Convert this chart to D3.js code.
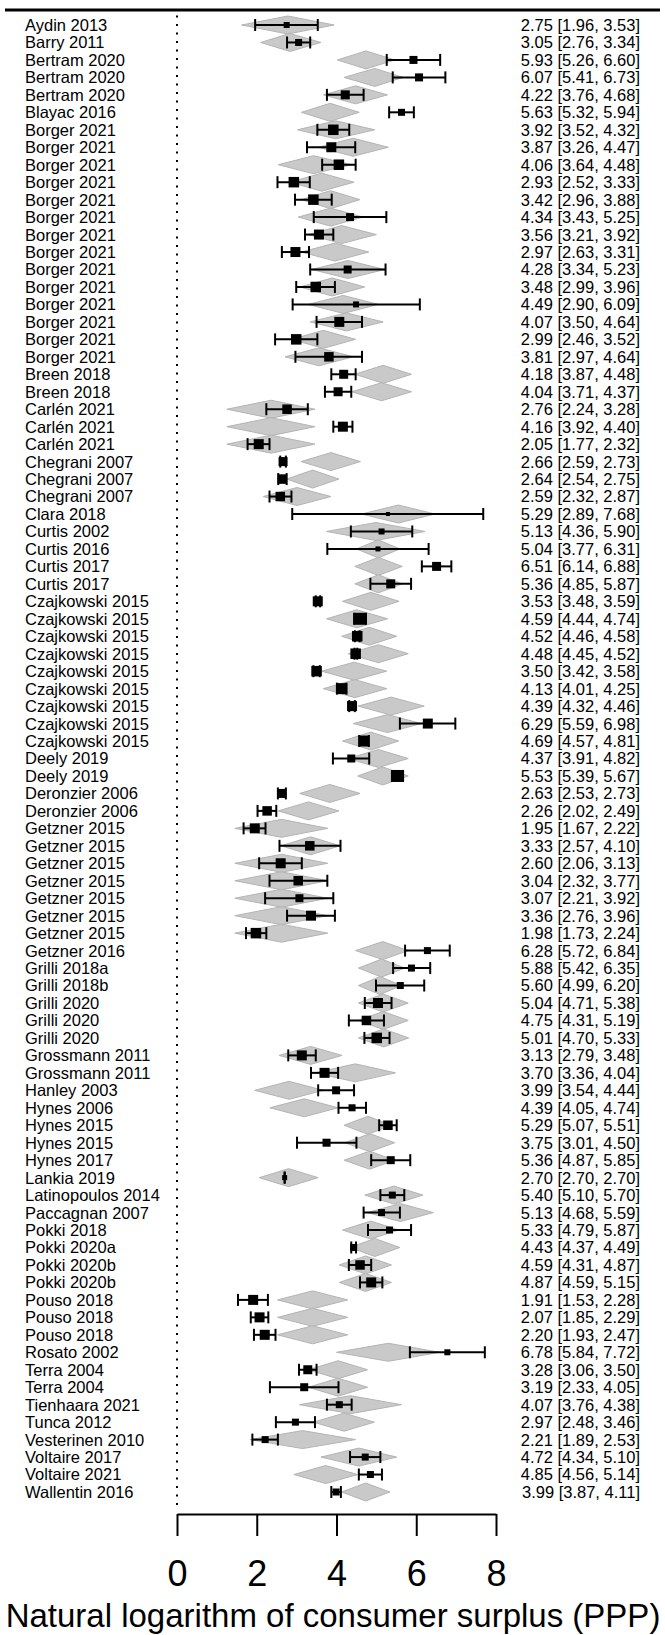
<!DOCTYPE html>
<html>
<head>
<meta charset="utf-8">
<script src="https://cdn.jsdelivr.net/npm/d3@7"></script>
<style>
  html, body { margin: 0; padding: 0; background: #fff; }
  svg { display: block; font-family: "Liberation Sans", Arial, sans-serif; }
</style>
</head>
<body>
<svg id="chart" width="665" height="1635"></svg>
<script>
// ---- data ----
const studies = ["Aydin 2013","Barry 2011","Bertram 2020","Bertram 2020","Bertram 2020","Blayac 2016",
"Borger 2021","Borger 2021","Borger 2021","Borger 2021","Borger 2021","Borger 2021","Borger 2021","Borger 2021",
"Borger 2021","Borger 2021","Borger 2021","Borger 2021","Borger 2021","Borger 2021",
"Breen 2018","Breen 2018","Carlén 2021","Carlén 2021","Carlén 2021","Chegrani 2007","Chegrani 2007","Chegrani 2007",
"Clara 2018","Curtis 2002","Curtis 2016","Curtis 2017","Curtis 2017",
"Czajkowski 2015","Czajkowski 2015","Czajkowski 2015","Czajkowski 2015","Czajkowski 2015","Czajkowski 2015",
"Czajkowski 2015","Czajkowski 2015","Czajkowski 2015","Deely 2019","Deely 2019","Deronzier 2006","Deronzier 2006",
"Getzner 2015","Getzner 2015","Getzner 2015","Getzner 2015","Getzner 2015","Getzner 2015","Getzner 2015","Getzner 2016",
"Grilli 2018a","Grilli 2018b","Grilli 2020","Grilli 2020","Grilli 2020","Grossmann 2011","Grossmann 2011","Hanley 2003",
"Hynes 2006","Hynes 2015","Hynes 2015","Hynes 2017","Lankia 2019","Latinopoulos 2014","Paccagnan 2007","Pokki 2018",
"Pokki 2020a","Pokki 2020b","Pokki 2020b","Pouso 2018","Pouso 2018","Pouso 2018","Rosato 2002","Terra 2004","Terra 2004",
"Tienhaara 2021","Tunca 2012","Vesterinen 2010","Voltaire 2017","Voltaire 2021","Wallentin 2016"];

const estimate = [2.75,3.05,5.93,6.07,4.22,5.63,3.92,3.87,4.06,2.93,3.42,4.34,3.56,2.97,4.28,3.48,4.49,4.07,2.99,3.81,
4.18,4.04,2.76,4.16,2.05,2.66,2.64,2.59,5.29,5.13,5.04,6.51,5.36,3.53,4.59,4.52,4.48,3.50,4.13,4.39,6.29,4.69,
4.37,5.53,2.63,2.26,1.95,3.33,2.60,3.04,3.07,3.36,1.98,6.28,5.88,5.60,5.04,4.75,5.01,3.13,3.70,3.99,4.39,5.29,
3.75,5.36,2.70,5.40,5.13,5.33,4.43,4.59,4.87,1.91,2.07,2.20,6.78,3.28,3.19,4.07,2.97,2.21,4.72,4.85,3.99];

const ciLower = [1.96,2.76,5.26,5.41,3.76,5.32,3.52,3.26,3.64,2.52,2.96,3.43,3.21,2.63,3.34,2.99,2.90,3.50,2.46,2.97,
3.87,3.71,2.24,3.92,1.77,2.59,2.54,2.32,2.89,4.36,3.77,6.14,4.85,3.48,4.44,4.46,4.45,3.42,4.01,4.32,5.59,4.57,
3.91,5.39,2.53,2.02,1.67,2.57,2.06,2.32,2.21,2.76,1.73,5.72,5.42,4.99,4.71,4.31,4.70,2.79,3.36,3.54,4.05,5.07,
3.01,4.87,2.70,5.10,4.68,4.79,4.37,4.31,4.59,1.53,1.85,1.93,5.84,3.06,2.33,3.76,2.48,1.89,4.34,4.56,3.87];

const ciUpper = [3.53,3.34,6.60,6.73,4.68,5.94,4.32,4.47,4.48,3.33,3.88,5.25,3.92,3.31,5.23,3.96,6.09,4.64,3.52,4.64,
4.48,4.37,3.28,4.40,2.32,2.73,2.75,2.87,7.68,5.90,6.31,6.88,5.87,3.59,4.74,4.58,4.52,3.58,4.25,4.46,6.98,4.81,
4.82,5.67,2.73,2.49,2.22,4.10,3.13,3.77,3.92,3.96,2.24,6.84,6.35,6.20,5.38,5.19,5.33,3.48,4.04,4.44,4.74,5.51,
4.50,5.85,2.70,5.70,5.59,5.87,4.49,4.87,5.15,2.28,2.29,2.47,7.72,3.50,4.05,4.38,3.46,2.53,5.10,5.14,4.11];

// relative study weights (square size)
const weight = [6,7,8,8,9,7,10.5,10,10.5,10.5,10.5,8,10,10,8,10.5,6,10,10.5,9.5,
9,9,9.5,10,10,9,9.5,9.5,4,6,5,9,9,10,12,10.5,10.5,10.5,11,10,10,11,
8,12,9,9.5,10,9.5,10,9.5,8,10,10.5,7,7,7,10,9.5,10.5,10,10,8,7,9.5,
8,8,5,7,7,7,7,9.5,10,10,10,10,6,9,8,7,7,7,7,7,7];

// fitted values (diamonds): lower, centre, upper
const fitLower = [1.62,2.10,4.02,4.19,3.67,3.12,3.02,3.54,2.54,2.83,3.12,3.04,3.29,3.12,3.38,3.08,3.29,3.34,2.87,2.71,
4.46,4.38,1.25,1.25,1.25,3.11,2.75,2.16,4.63,3.75,4.50,4.46,4.46,4.15,3.75,4.13,4.29,3.63,3.67,4.54,4.42,4.15,
4.29,4.53,3.08,2.54,1.45,2.61,1.45,1.45,1.45,1.45,1.45,4.48,4.55,4.55,4.55,4.55,4.55,2.56,3.46,1.95,2.33,4.19,
4.21,4.19,2.06,4.71,4.77,4.15,4.34,4.07,4.07,2.52,2.52,2.52,4.00,3.29,3.29,3.07,3.42,1.83,3.61,2.93,4.13];
const fitValue = [2.78,2.83,4.74,4.96,4.48,3.84,3.98,4.42,3.42,3.63,3.85,3.85,4.13,3.96,4.29,3.89,4.17,4.25,3.67,3.56,
5.17,5.13,2.36,2.36,2.36,3.86,3.40,3.01,5.55,4.99,5.05,5.05,5.05,4.86,4.51,4.82,5.05,4.44,4.46,5.37,5.28,4.86,
5.05,5.16,3.83,3.30,2.62,3.35,2.62,2.62,2.62,2.62,2.62,5.16,5.13,5.09,5.17,5.17,5.18,3.35,4.47,2.81,3.19,4.79,
4.84,4.83,2.80,5.44,5.60,4.86,4.96,4.73,4.73,3.40,3.40,3.40,5.30,4.04,4.04,4.35,4.19,3.15,4.56,3.73,4.73];
const fitUpper = [3.94,3.61,5.46,5.67,5.28,4.57,4.96,5.30,4.38,4.44,4.59,4.67,5.00,4.81,5.21,4.71,5.05,5.17,4.48,4.42,
5.88,5.88,3.46,3.46,3.46,4.60,4.06,3.86,6.47,6.22,5.59,5.65,5.65,5.57,5.28,5.51,5.80,5.26,5.26,6.20,6.13,5.56,
5.80,5.80,4.59,4.06,3.78,4.09,3.78,3.78,3.78,3.78,3.78,5.80,5.71,5.63,5.80,5.80,5.81,4.14,5.48,3.67,4.04,5.38,
5.46,5.46,3.54,6.17,6.43,5.56,5.59,5.38,5.38,4.28,4.28,4.28,6.59,4.78,4.78,5.63,4.95,4.48,5.51,4.53,5.34];

const xTicks = [0, 2, 4, 6, 8];
const xTitle = "Natural logarithm of consumer surplus (PPP)";

// ---- build ----
const rows = studies.map((s, i) => ({
  i: i + 1, study: s, est: estimate[i], lo: ciLower[i], hi: ciUpper[i], w: weight[i],
  fl: fitLower[i], fv: fitValue[i], fu: fitUpper[i]
}));

const svg = d3.select("#chart");
const x = d3.scaleLinear().domain([0, 8]).range([177, 496]);
const y = d3.scaleLinear().domain([1, rows.length]).range([25, 1492]);
const sq = d3.scaleLinear().domain([0, 12]).range([0, 12]);
const diamondHalfH = 9;
const capHalf = 6;
const fmt = d3.format(".2f");

// top rule
svg.append("line").attr("x1", 5).attr("x2", 660).attr("y1", 10).attr("y2", 10)
  .attr("stroke", "#000").attr("stroke-width", 3);

// dotted reference line at 0
svg.append("line").attr("x1", x(0)).attr("x2", x(0))
  .attr("y1", y(0.45)).attr("y2", y(rows.length + 0.9))
  .attr("stroke", "#000").attr("stroke-width", 2).attr("stroke-dasharray", "2,6.5");

// diamonds (fitted values)
svg.append("g").selectAll("path").data(rows).join("path")
  .attr("d", d => {
    const cy = y(d.i);
    return `M${x(d.fl)},${cy}L${x(d.fv)},${cy - diamondHalfH}L${x(d.fu)},${cy}L${x(d.fv)},${cy + diamondHalfH}Z`;
  })
  .attr("fill", "#c9c9c9").attr("stroke", "#b4b4b4").attr("stroke-width", 1);

// error bars
const eb = svg.append("g").attr("stroke", "#000").attr("stroke-width", 2);
eb.selectAll("line.ci").data(rows).join("line").attr("class", "ci")
  .attr("x1", d => x(d.lo)).attr("x2", d => x(d.hi))
  .attr("y1", d => y(d.i)).attr("y2", d => y(d.i));
eb.selectAll("line.capl").data(rows).join("line").attr("class", "capl")
  .attr("x1", d => x(d.lo)).attr("x2", d => x(d.lo))
  .attr("y1", d => y(d.i) - capHalf).attr("y2", d => y(d.i) + capHalf);
eb.selectAll("line.capu").data(rows).join("line").attr("class", "capu")
  .attr("x1", d => x(d.hi)).attr("x2", d => x(d.hi))
  .attr("y1", d => y(d.i) - capHalf).attr("y2", d => y(d.i) + capHalf);

// squares
svg.append("g").selectAll("rect").data(rows).join("rect")
  .attr("x", d => x(d.est) - sq(d.w) / 2)
  .attr("y", d => y(d.i) - sq(d.w) / 2)
  .attr("width", d => sq(d.w)).attr("height", d => sq(d.w))
  .attr("fill", "#000");

// study labels
svg.append("g").selectAll("text").data(rows).join("text")
  .attr("x", 25).attr("y", d => y(d.i)).attr("dy", "0.36em")
  .attr("font-size", 16.5).attr("fill", "#000")
  .text(d => d.study);

// estimate annotations
svg.append("g").selectAll("text").data(rows).join("text")
  .attr("x", 640).attr("y", d => y(d.i)).attr("dy", "0.36em")
  .attr("text-anchor", "end").attr("font-size", 16.5).attr("fill", "#000")
  .text(d => `${fmt(d.est)} [${fmt(d.lo)}, ${fmt(d.hi)}]`);

// x axis
const axis = d3.axisBottom(x).tickValues(xTicks).tickFormat(d3.format("d"))
  .tickSize(22).tickSizeOuter(0).tickPadding(24);
const ax = svg.append("g").attr("transform", "translate(0,1514)").call(axis);
ax.select(".domain").attr("stroke", "#000").attr("stroke-width", 2);
ax.selectAll(".tick line").attr("stroke", "#000").attr("stroke-width", 2);
ax.selectAll(".tick text").attr("font-size", 36).attr("fill", "#000")
  .attr("font-family", "'Liberation Sans', Arial, sans-serif");

// axis title
svg.append("text").attr("x", 333).attr("y", 1627).attr("text-anchor", "middle")
  .attr("font-size", 33).attr("fill", "#000").text(xTitle);
</script>
</body>
</html>
